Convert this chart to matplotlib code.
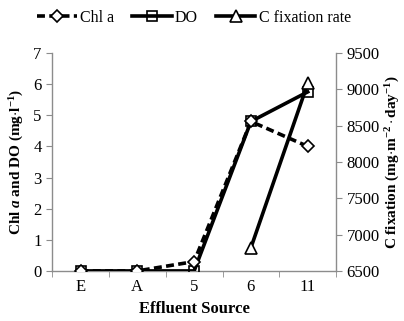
import numpy as np
import matplotlib
matplotlib.use("Agg")
import matplotlib.pyplot as plt

categories = ["E", "A", "5", "6", "11"]
chl_a = [0.0, 0.0, 0.3, 4.8, 4.0]
do_vals = [0.0, 0.0, 0.0, 4.8, 5.75]
c_fix = [np.nan, np.nan, np.nan, 6820, 9080]

plt.rcParams['font.family'] = ['Liberation Serif', 'DejaVu Serif']
plt.rcParams['mathtext.fontset'] = 'custom'
plt.rcParams['mathtext.rm'] = 'Liberation Serif:bold'
plt.rcParams['mathtext.it'] = 'Liberation Serif:italic:bold'
plt.rcParams['mathtext.bf'] = 'Liberation Serif:bold'

fig = plt.figure(figsize=(4.04, 3.21), dpi=100)
ax = fig.add_axes([0.129, 0.156, 0.703, 0.679])
ax2 = ax.twinx()

x = np.arange(len(categories))
gray = '#8c8c8c'

l1, = ax.plot(x, chl_a, color='black', lw=2.6, ls=(0, (2.2, 1.2)), marker='D', ms=6,
              mfc='white', mec='black', mew=1.2, zorder=4, label='Chl a')
l2, = ax.plot(x, do_vals, color='black', lw=2.6, marker='s', ms=7.5,
              mfc='none', mec='black', mew=1.2, zorder=3, label='DO')
l3, = ax2.plot(x, c_fix, color='black', lw=2.6, marker='^', ms=8,
               mfc='white', mec='black', mew=1.2, zorder=3, label='C fixation rate')

ax.set_xlim(-0.5, len(categories) - 0.5)
ax.set_ylim(0, 7)
ax.set_yticks(range(0, 8))
ax2.set_ylim(6500, 9500)
ax2.set_yticks(range(6500, 9501, 500))

ax.set_xticks(x)
ax.set_xticklabels(categories)
ax.set_xticks(np.arange(-0.5, len(categories), 1), minor=True)
ax.tick_params(axis='x', which='major', length=0, labelsize=12, pad=6)
ax.tick_params(axis='x', which='minor', length=4, color=gray, direction='out')
ax.tick_params(axis='y', length=4, color=gray, labelsize=12, direction='out')
ax2.tick_params(axis='y', length=4, color=gray, labelsize=12, direction='out')

for a in (ax, ax2):
    a.spines['top'].set_visible(False)
    for s in ('left', 'right', 'bottom'):
        a.spines[s].set_color(gray)
        a.spines[s].set_linewidth(1.0)
ax.spines['right'].set_visible(False)
ax2.spines['left'].set_visible(False)
ax2.spines['bottom'].set_visible(False)

ax.set_xlabel('Effluent Source', fontsize=12, fontweight='bold', labelpad=4)
ax.set_ylabel(r'Chl $\mathit{a}$ and DO (mg$\cdot$l$^{-1}$)', fontsize=11,
              fontweight='bold', labelpad=5)
ax2.set_ylabel(r'C fixation (mg$\cdot$m$^{-2}\cdot$day$^{-1}$)', fontsize=11,
               fontweight='bold', labelpad=3)

fig.legend(handles=[l1, l2, l3], loc='center', bbox_to_anchor=(0.48, 0.944),
           ncol=3, frameon=False, fontsize=11.5, handlelength=2.5,
           columnspacing=1.1, handletextpad=0.2)

fig.savefig('out.png', dpi=100)
